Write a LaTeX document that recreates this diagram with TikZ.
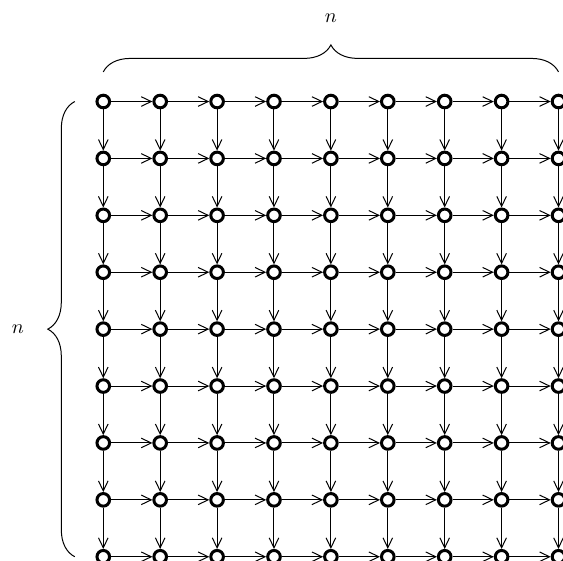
\documentclass[tikz,border=0pt]{standalone}
\usetikzlibrary{arrows.meta,decorations.pathreplacing}

\tikzset{
  vertex/.style={circle, draw, line width=1.5pt, minimum size=6.3pt, inner sep=0pt, fill=white},
  edge/.style={line width=0.5pt, -{Straight Barb[length=5pt,width=4.8pt]}},
  bracedeco/.style={decorate, line width=0.5pt, decoration={brace, amplitude=0.475cm}},
  dimlabel/.style={inner sep=0pt}
}

\begin{document}
\begin{tikzpicture}
  \useasboundingbox (-1.815,-8.058) rectangle (8.079,1.784);

  % 9 x 9 grid of vertices
  \foreach \i in {0,...,8}{
    \foreach \j in {0,...,8}{
      \node[vertex] (v-\i-\j) at (\i,-\j) {};
    }
  }

  % edges to the right and downwards
  \foreach \i in {0,...,8}{
    \foreach \j in {0,...,8}{
      \ifnum\i<8
        \pgfmathtruncatemacro{\ni}{\i+1}
        \draw[edge] (v-\i-\j) -- (v-\ni-\j);
      \fi
      \ifnum\j<8
        \pgfmathtruncatemacro{\nj}{\j+1}
        \draw[edge] (v-\i-\j) -- (v-\i-\nj);
      \fi
    }
  }

  % braces marking the side lengths
  \coordinate (tl) at (0,0.52);
  \coordinate (tr) at (8,0.52);
  \coordinate (lb) at (-0.5,-8);
  \coordinate (lt) at (-0.5,0);
  \draw[bracedeco] (tl) -- (tr);
  \draw[bracedeco] (lb) -- (lt);

  \node[dimlabel] (ntop) at (4,1.46) {$n$};
  \node[dimlabel] (nleft) at (-1.5,-4) {$n$};
\end{tikzpicture}
\end{document}
